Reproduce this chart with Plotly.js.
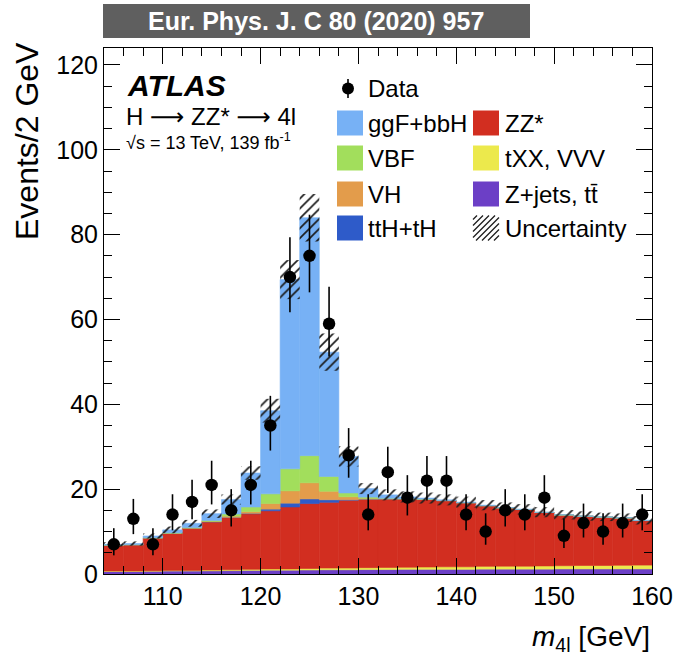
<!DOCTYPE html>
<html>
<head>
<meta charset="utf-8">
<script src="https://cdn.plot.ly/plotly-3.0.1.min.js"></script>
<style>html,body{margin:0;padding:0;background:#fff}</style>
</head>
<body>
<div id="chart" style="width:675px;height:661px"></div>
<script>
// Four-lepton invariant mass, 2 GeV bins from 104 to 160 GeV
const binCenters = [105,107,109,111,113,115,117,119,121,123,125,127,129,131,
                    133,135,137,139,141,143,145,147,149,151,153,155,157,159];

// Observed events and their asymmetric (Poisson) uncertainties
const dataCounts  = [7,13,7,14,17,21,15,21,35,70,75,59,28,14,24,18,22,22,14,10,15,14,18,9,12,10,12,14];
const dataErrUp   = [3.8,4.7,3.8,4.8,5.2,5.7,5.0,5.7,7.0,9.4,9.7,8.7,6.4,4.8,6.0,5.3,5.8,5.8,4.8,4.3,5.0,4.8,5.3,4.1,4.6,4.3,4.6,4.8];
const dataErrDown = [2.6,3.6,2.6,3.7,4.1,4.6,3.8,4.6,5.9,8.3,8.6,7.7,5.3,3.7,4.9,4.2,4.7,4.7,3.7,3.1,3.8,3.7,4.2,2.9,3.4,3.1,3.4,3.7];

// Expected yields per process (stacked from bottom to top)
const zjetsTtbar = [0.6,0.6,0.65,0.7,0.7,0.75,0.8,0.85,0.9,0.9,0.95,1.0,1.0,1.05,1.05,1.1,1.1,1.1,1.1,1.15,1.15,1.15,1.15,1.2,1.2,1.2,1.2,1.2];
const txxVvv     = [0.1,0.1,0.1,0.15,0.15,0.2,0.2,0.25,0.3,0.3,0.35,0.4,0.4,0.45,0.5,0.5,0.55,0.6,0.6,0.65,0.7,0.7,0.75,0.75,0.8,0.8,0.85,0.9];
const zzStar     = [6.1,6.2,7.75,8.75,9.95,11.35,12.3,13.1,13.7,14.6,15.3,15.5,16.0,16.1,16.15,16.1,15.95,15.6,15.1,14.3,13.75,13.35,12.6,11.95,11.6,11.4,11.15,10.5];
const ttHtH      = [0,0,0,0,0,0.02,0.05,0.1,0.4,0.9,1.1,0.6,0.1,0.03,0,0,0,0,0,0,0,0,0,0,0,0,0,0];
const vhProc     = [0,0,0.01,0.02,0.05,0.1,0.3,0.4,1.3,2.9,3.8,2.0,0.7,0.2,0.05,0.02,0.01,0,0,0,0,0,0,0,0,0,0,0];
const vbfProc    = [0.02,0.03,0.05,0.08,0.1,0.2,0.5,1.1,2.3,5.2,6.4,3.5,0.9,0.3,0.1,0.05,0.04,0.03,0.03,0.02,0.02,0.02,0.02,0.02,0.02,0.02,0.02,0.02];
const ggFbbH     = [0.15,0.25,0.4,0.7,1.0,1.6,3.4,8.0,19.6,44.6,56.1,29.3,8.6,2.0,0.8,0.4,0.25,0.15,0.1,0.1,0.05,0.05,0.05,0.05,0.05,0.05,0.05,0.05];
// Total systematic uncertainty on the prediction
const systUnc    = [0.5,0.5,0.6,0.8,0.8,1.0,1.2,1.6,2.8,4.6,5.6,4.4,2.4,1.3,1.3,1.3,1.3,1.3,1.3,1.2,1.2,1.2,1.2,1.1,1.1,1.0,1.0,1.0];

const processes = [
  {name: 'Z+jets, tt̄', y: zjetsTtbar, color: '#6c3fc6'},
  {name: 'tXX, VVV',     y: txxVvv,     color: '#ece94c'},
  {name: 'ZZ*',          y: zzStar,     color: '#d22e20'},
  {name: 'ttH+tH',       y: ttHtH,      color: '#2e5bc9'},
  {name: 'VH',           y: vhProc,     color: '#e39c4b'},
  {name: 'VBF',          y: vbfProc,    color: '#a2de5c'},
  {name: 'ggF+bbH',      y: ggFbbH,     color: '#77b1f5'}
];

const traces = [];
let cumulative = binCenters.map(() => 0);
processes.forEach(p => {
  traces.push({
    type: 'bar', x: binCenters, y: p.y, base: cumulative.slice(), width: 2,
    marker: {color: p.color, line: {width: 0.6, color: p.color}}, name: p.name,
    showlegend: false, hoverinfo: 'skip'
  });
  cumulative = cumulative.map((c, i) => c + p.y[i]);
});
const totalPred = cumulative;

// Hatched uncertainty band around the total prediction
traces.push({
  type: 'bar', x: binCenters, width: 2,
  base: totalPred.map((t, i) => t - systUnc[i]),
  y: systUnc.map(u => 2 * u),
  marker: {color: 'rgba(0,0,0,0)', line: {width: 0},
           pattern: {shape: '/', fgcolor: '#1a1a1a', bgcolor: 'rgba(0,0,0,0)',
                     size: 7, solidity: 0.24, fillmode: 'replace'}},
  showlegend: false, hoverinfo: 'skip'
});

// Data points
traces.push({
  type: 'scatter', mode: 'markers', x: binCenters, y: dataCounts,
  marker: {color: '#000', size: 12.5},
  error_y: {type: 'data', symmetric: false, array: dataErrUp, arrayminus: dataErrDown,
            color: '#000', thickness: 1.6, width: 0},
  showlegend: false, hoverinfo: 'skip'
});

// Pixel helpers for the annotation/legend layer
const L = 104, R = 652, T = 48, B = 574;
const px = x => (x - L) / (R - L);
const py = y => (B - y) / (B - T);

const FONT = 'Liberation Sans, Arial, Helvetica, sans-serif';
const ARROW = '<span style="font-family:DejaVu Sans">⟶</span>';
const shapes = [];
const annotations = [];

// Journal banner
shapes.push({type: 'rect', xref: 'paper', yref: 'paper', layer: 'above',
  x0: px(103), x1: px(530), y0: py(38), y1: py(4),
  fillcolor: '#5f5f5f', line: {width: 0}});
annotations.push({xref: 'paper', yref: 'paper', x: px(316), y: py(21),
  text: '<b>Eur. Phys. J. C 80 (2020) 957</b>', showarrow: false,
  font: {family: FONT, size: 25, color: '#fff'}, xanchor: 'center', yanchor: 'middle'});

// ATLAS label
annotations.push({xref: 'paper', yref: 'paper', x: px(125), y: py(85.5),
  text: '<b><i>ATLAS</i></b>', showarrow: false, xanchor: 'left', yanchor: 'middle',
  font: {family: FONT, size: 30, color: '#000'}});
annotations.push({xref: 'paper', yref: 'paper', x: px(124), y: py(117),
  text: 'H ' + ARROW + ' ZZ* ' + ARROW + ' 4l', showarrow: false, xanchor: 'left', yanchor: 'middle',
  font: {family: FONT, size: 24, color: '#000'}});
annotations.push({xref: 'paper', yref: 'paper', x: px(124), y: py(141),
  text: '√s = 13 TeV, 139 fb<sup>-1</sup>', showarrow: false, xanchor: 'left', yanchor: 'middle',
  font: {family: FONT, size: 18, color: '#000'}});

// Legend
const legendFont = {family: FONT, size: 24, color: '#000'};
shapes.push({type: 'line', xref: 'paper', yref: 'paper', x0: px(348), x1: px(348),
  y0: py(79), y1: py(98), line: {color: '#000', width: 1.6}});
shapes.push({type: 'circle', xref: 'paper', yref: 'paper', xsizemode: 'pixel', ysizemode: 'pixel',
  xanchor: px(348), yanchor: py(88.5), x0: -6, x1: 6, y0: -6, y1: 6,
  fillcolor: '#000', line: {width: 0}});
annotations.push({xref: 'paper', yref: 'paper', x: px(366), y: py(88), text: 'Data',
  showarrow: false, xanchor: 'left', yanchor: 'middle', font: legendFont});

const legendRows = [123, 158, 194, 228];
const leftCol = ['ggF+bbH', 'VBF', 'VH', 'ttH+tH'];
const rightCol = ['ZZ*', 'tXX, VVV', 'Z+jets, tt̄', 'Uncertainty'];
const colorOf = {};
processes.forEach(p => { colorOf[p.name] = p.color; });

function swatch(x0, yc, color) {
  shapes.push({type: 'rect', xref: 'paper', yref: 'paper',
    x0: px(x0), x1: px(x0 + 26), y0: py(yc + 12.5), y1: py(yc - 12.5),
    fillcolor: color, line: {width: 0}});
}
function hatchSwatch(x0, yc) {
  const y0 = yc - 12.5, y1 = yc + 12.5, x1 = x0 + 26;
  for (let c = x0 + y0 + 4; c < x1 + y1; c += 6) {
    const xa = Math.max(x0, c - y1), xb = Math.min(x1, c - y0);
    if (xb <= xa) continue;
    shapes.push({type: 'line', xref: 'paper', yref: 'paper',
      x0: px(xa), y0: py(c - xa), x1: px(xb), y1: py(c - xb),
      line: {color: '#1a1a1a', width: 1.2}});
  }
}
legendRows.forEach((yc, i) => {
  swatch(337, yc, colorOf[leftCol[i]]);
  annotations.push({xref: 'paper', yref: 'paper', x: px(366), y: py(yc), text: leftCol[i],
    showarrow: false, xanchor: 'left', yanchor: 'middle', font: legendFont});
  if (rightCol[i] === 'Uncertainty') hatchSwatch(473, yc);
  else swatch(473, yc, colorOf[rightCol[i]]);
  annotations.push({xref: 'paper', yref: 'paper', x: px(503), y: py(yc), text: rightCol[i],
    showarrow: false, xanchor: 'left', yanchor: 'middle', font: legendFont});
});

// Axis titles
annotations.push({xref: 'paper', yref: 'paper', x: 1, y: py(638),
  text: '<i>m</i><sub>4l</sub> [GeV]', showarrow: false, xanchor: 'right', yanchor: 'middle',
  font: {family: FONT, size: 28, color: '#000'}});
annotations.push({xref: 'paper', yref: 'paper', x: px(27), y: py(40), textangle: -90,
  text: 'Events/2 GeV', showarrow: false, xanchor: 'center', yanchor: 'top',
  font: {family: FONT, size: 32, color: '#000'}});

const axisCommon = {
  showline: true, linecolor: '#000', linewidth: 1, mirror: 'allticks',
  ticks: 'inside', ticklen: 16, tickwidth: 1, tickcolor: '#000',
  showgrid: false, zeroline: false,
  tickfont: {family: FONT, size: 25, color: '#000'}
};

const layout = {
  width: 675, height: 661,
  margin: {l: L, r: 675 - R, t: T, b: 661 - B, pad: 0},
  paper_bgcolor: '#fff', plot_bgcolor: '#fff',
  barmode: 'overlay', showlegend: false,
  xaxis: Object.assign({}, axisCommon, {range: [104, 160], tick0: 100, dtick: 10,
    minor: {dtick: 2, ticklen: 8, ticks: 'inside', tickcolor: '#000', tickwidth: 1}}),
  yaxis: Object.assign({}, axisCommon, {range: [0, 124], tick0: 0, dtick: 20,
    minor: {dtick: 5, ticklen: 8, ticks: 'inside', tickcolor: '#000', tickwidth: 1}}),
  shapes: shapes, annotations: annotations
};

Plotly.newPlot('chart', traces, layout, {displayModeBar: false, staticPlot: true});
</script>
</body>
</html>
